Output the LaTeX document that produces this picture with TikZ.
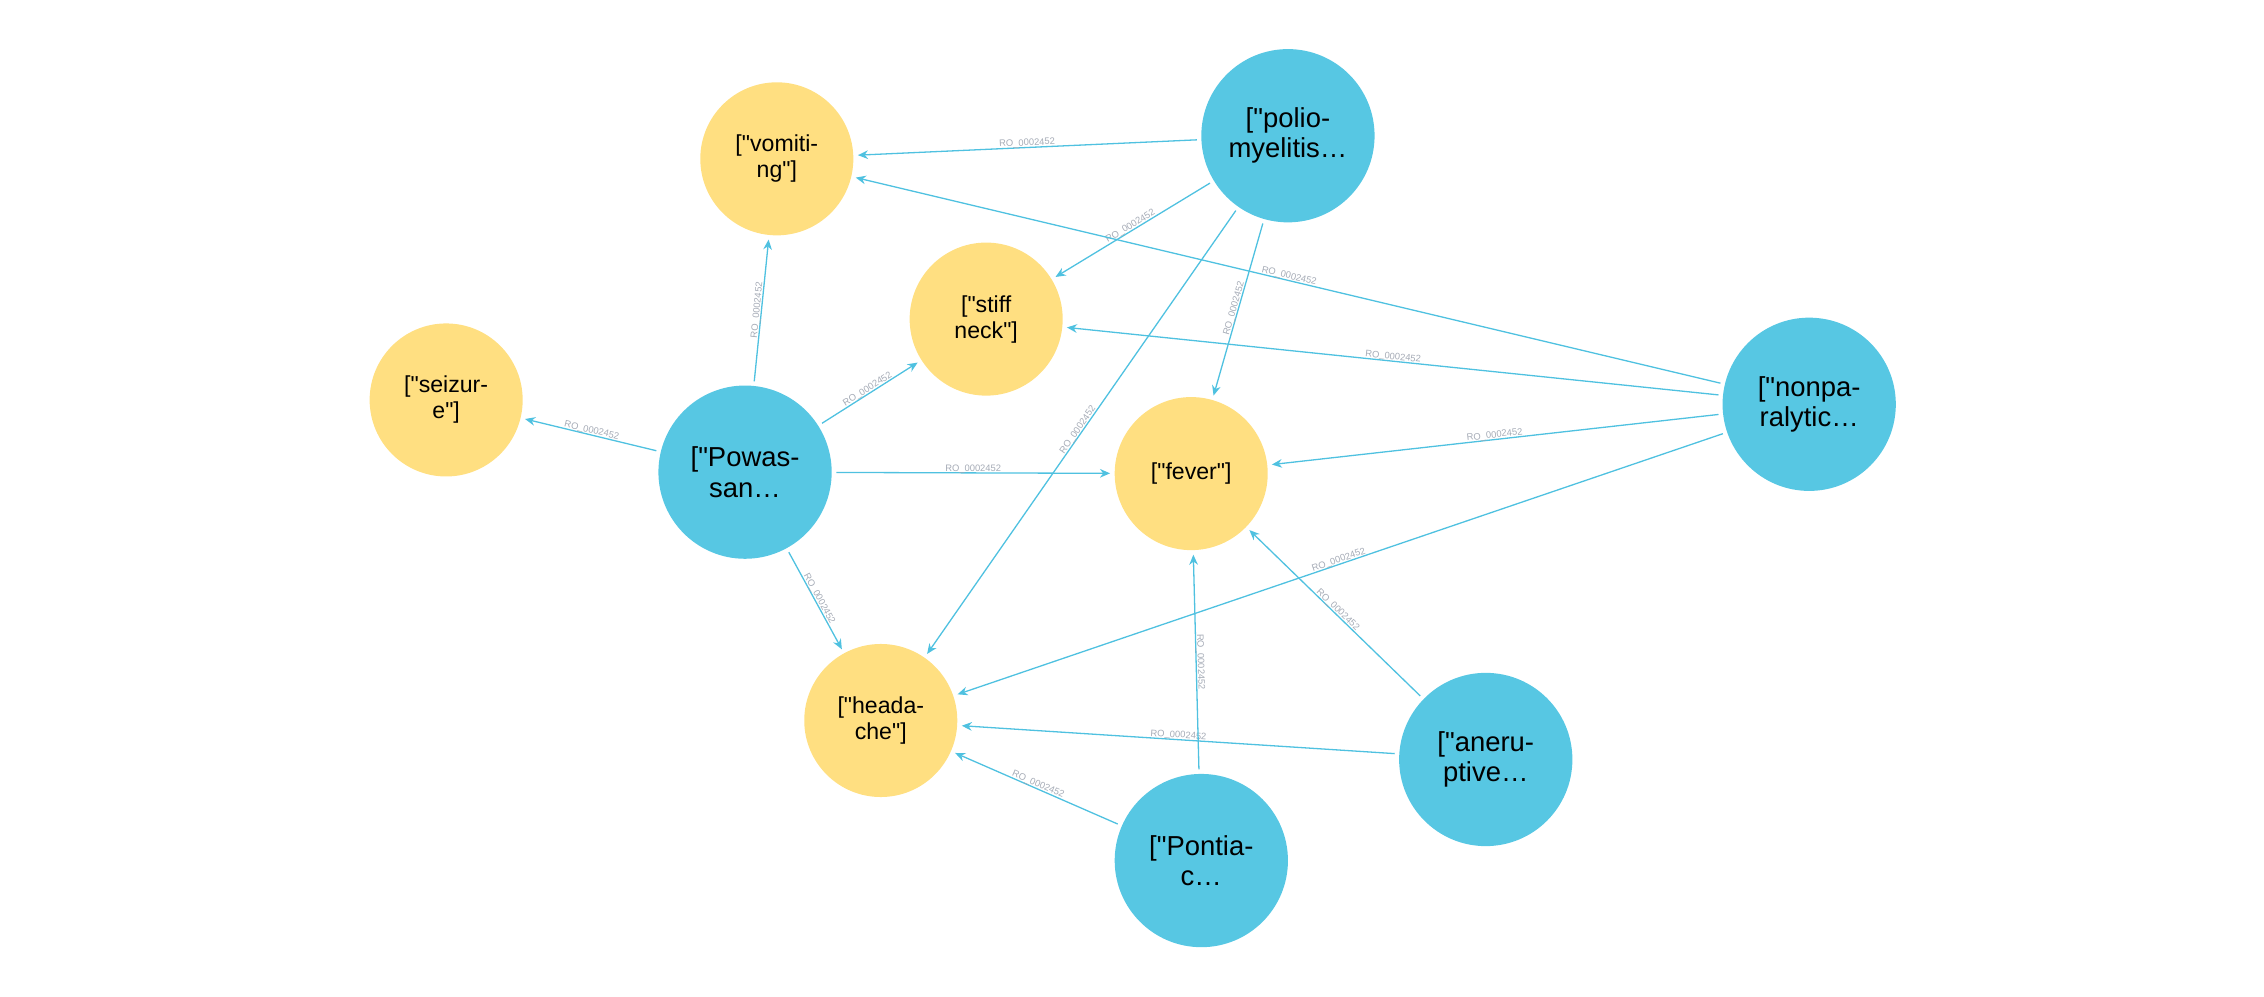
\documentclass[tikz,border=0pt]{standalone}
\usepackage{fontspec}
\setmainfont{Liberation Sans}[Ligatures=TeXOff]
\usetikzlibrary{arrows.meta}
\definecolor{nblue}{HTML}{57C7E3}
\definecolor{nyel}{HTML}{FFDF81}
\definecolor{ecol}{HTML}{4FC1E0}
\definecolor{lcol}{HTML}{A5ABB6}
\newcommand{\qq}{\symbol{34}}
\begin{document}
\begin{tikzpicture}[x=1pt,y=-1pt,
 b/.style={circle,fill=nblue,minimum size=120pt,inner sep=0,align=center,font=\fontsize{19}{21}\selectfont},
 yl/.style={circle,fill=nyel,minimum size=106pt,inner sep=0,align=center,font=\fontsize{16}{18}\selectfont},
 e/.style={draw=ecol,line width=0.9pt,-{Stealth[length=7pt,width=6pt]},shorten >=3pt,shorten <=3pt},
 lb/.style={midway,sloped,above=-1.5pt,font=\fontsize{6.5}{7}\selectfont,text=lcol,inner sep=1pt}]
\useasboundingbox (0,0) rectangle (1568,690);
\node[yl] (vom) at (538,110) {[\qq vomiti-\\ng\qq]};
\node[b] (pol) at (892,94) {[\qq polio-\\myelitis…};
\node[yl] (stf) at (683,221) {[\qq stiff\\neck\qq]};
\node[yl] (sei) at (309,277) {[\qq seizur-\\e\qq]};
\node[b] (pow) at (516,327) {[\qq Powas-\\san…};
\node[yl] (fev) at (825,328) {[\qq fever\qq]};
\node[b] (non) at (1253,280) {[\qq nonpa-\\ralytic…};
\node[yl] (hea) at (610,499) {[\qq heada-\\che\qq]};
\node[b] (ane) at (1029,526) {[\qq aneru-\\ptive…};
\node[b] (pon) at (832,596) {[\qq Pontia-\\c…};
\foreach \a/\bb in {pol/vom,pol/stf,pol/fev,pol/hea,non/vom,non/stf,non/fev,non/hea,pow/sei,pow/vom,pow/stf,pow/fev,pow/hea,ane/hea,ane/fev,pon/fev,pon/hea}
 \draw[e] (\a) -- node[lb]{RO\_0002452} (\bb);
\end{tikzpicture}
\end{document}
